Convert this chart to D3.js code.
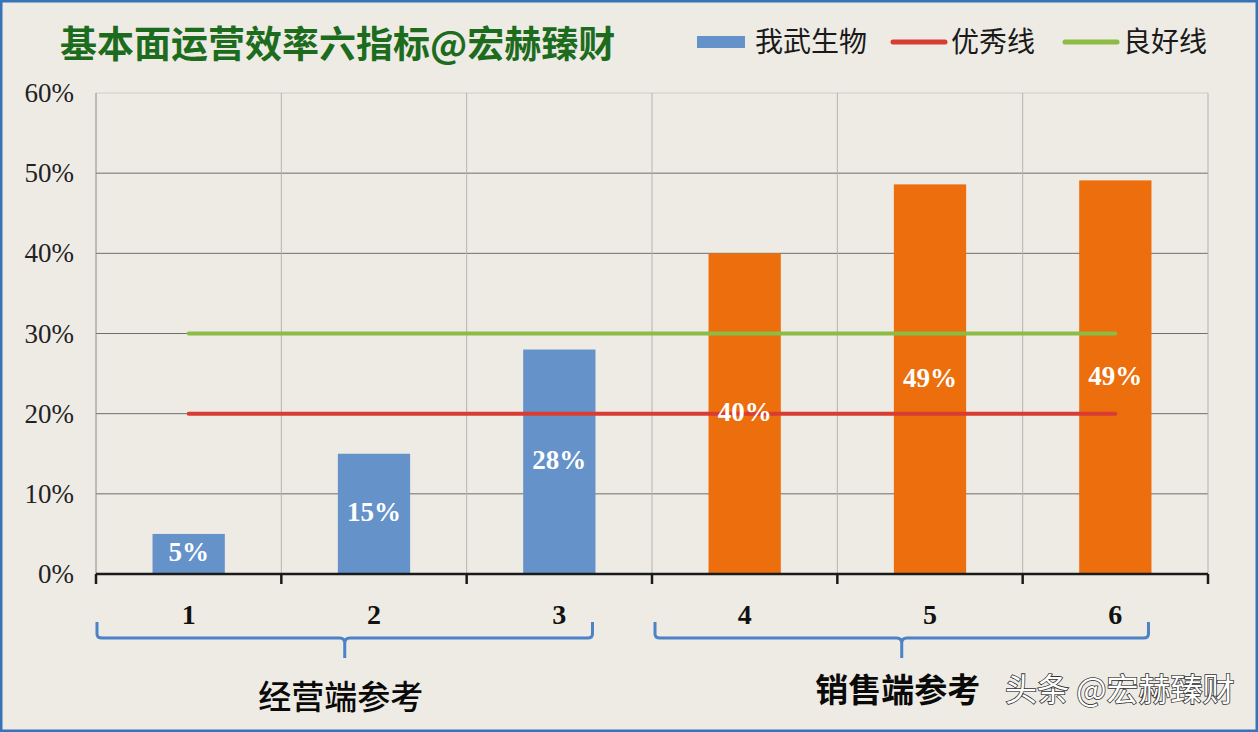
<!DOCTYPE html>
<html>
<head>
<meta charset="utf-8">
<script src="https://cdn.jsdelivr.net/npm/d3@7"></script>
<style>
  html, body { margin: 0; padding: 0; background: #eeebe5; }
  svg { display: block; }
</style>
</head>
<body>
<svg id="chart"></svg>
<script>
// chart data
const categories = ["1", "2", "3", "4", "5", "6"];
const values = [5, 15, 28, 40, 48.6, 49.1];
const barLabels = ["5%", "15%", "28%", "40%", "49%", "49%"];
const groupOfBar = ["经营", "经营", "经营", "销售", "销售", "销售"];
const excellentLine = 20;
const goodLine = 30;
const yTicks = [0, 10, 20, 30, 40, 50, 60];
const groups = [
  { name: "经营端参考", from: "1", to: "3" },
  { name: "销售端参考", from: "4", to: "6" },
];
const legendItems = ["我武生物", "优秀线", "良好线"];

const width = 1258;
const height = 732;
const margin = { top: 93, right: 50, bottom: 158, left: 96 };

const colors = {
  blue: "#6592c9",
  orange: "#ec6e0c",
  red: "#d83c33",
  green: "#8cbc44",
  brace: "#4b82c8",
  title: "#1d6b1d",
};

const svg = d3.select("#chart").attr("width", width).attr("height", height);

// background + frame
svg.append("rect")
  .attr("x", 1).attr("y", 1)
  .attr("width", width - 2).attr("height", height - 2)
  .attr("fill", "#eeebe5")
  .attr("stroke", "#3673b8")
  .attr("stroke-width", 3);

const xScale = d3.scaleBand()
  .domain(categories)
  .range([margin.left, width - margin.right])
  .paddingInner(0.61)
  .paddingOuter(0.305);

const yScale = d3.scaleLinear()
  .domain([0, 60])
  .range([height - margin.bottom, margin.top]);

const step = xScale.step();
const bw = xScale.bandwidth();
const boundaries = d3.range(categories.length + 1).map((i) => margin.left + i * step);
const bandStart = (c) => xScale(c) - (step - bw) / 2;

// horizontal grid
svg.append("g")
  .selectAll("line")
  .data(yTicks.slice(1))
  .enter()
  .append("line")
  .attr("x1", margin.left)
  .attr("x2", width - margin.right)
  .attr("y1", (d) => yScale(d))
  .attr("y2", (d) => yScale(d))
  .attr("stroke", (d) => (d === 60 ? "#cfcdc8" : "#6e6e6e"))
  .attr("stroke-width", 1);

// vertical grid
svg.append("g")
  .selectAll("line")
  .data(boundaries)
  .enter()
  .append("line")
  .attr("x1", (d) => d)
  .attr("x2", (d) => d)
  .attr("y1", yScale(60))
  .attr("y2", yScale(0))
  .attr("stroke", (d, i) => (i === 0 ? "#8a8a8a" : "#b5b3ae"))
  .attr("stroke-width", 1);

// y axis labels
const yAxis = d3.axisLeft(yScale)
  .tickValues(yTicks)
  .tickFormat((d) => d + "%")
  .tickSize(0)
  .tickPadding(22);

svg.append("g")
  .attr("transform", "translate(" + margin.left + ",0)")
  .call(yAxis)
  .call((g) => g.select(".domain").remove())
  .selectAll("text")
  .attr("font-family", "'Liberation Serif', serif")
  .attr("font-size", 27)
  .attr("fill", "#222");

// bars
svg.append("g")
  .selectAll("rect")
  .data(values)
  .enter()
  .append("rect")
  .attr("x", (d, i) => xScale(categories[i]))
  .attr("width", bw)
  .attr("y", (d) => yScale(d))
  .attr("height", (d) => yScale(0) - yScale(d))
  .attr("fill", (d, i) => (groupOfBar[i] === "经营" ? colors.blue : colors.orange));

// reference lines
const first = xScale(categories[0]) + bw / 2;
const last = xScale(categories[categories.length - 1]) + bw / 2;
[[goodLine, colors.green], [excellentLine, colors.red]].forEach(([v, c]) => {
  svg.append("line")
    .attr("x1", first).attr("x2", last)
    .attr("y1", yScale(v)).attr("y2", yScale(v))
    .attr("stroke", c)
    .attr("stroke-width", 4)
    .attr("stroke-linecap", "round");
});

// bar value labels, centred in each bar
svg.append("g")
  .selectAll("text")
  .data(values)
  .enter()
  .append("text")
  .attr("x", (d, i) => xScale(categories[i]) + bw / 2)
  .attr("y", (d) => (yScale(d) + yScale(0)) / 2 - 2)
  .attr("dy", "0.35em")
  .attr("text-anchor", "middle")
  .attr("font-family", "'Liberation Serif', serif")
  .attr("font-weight", "bold")
  .attr("font-size", 27)
  .attr("fill", "#ffffff")
  .text((d, i) => barLabels[i]);

// x axis
const xAxisG = svg.append("g")
  .attr("transform", "translate(0," + yScale(0) + ")");

xAxisG.append("line")
  .attr("x1", margin.left).attr("x2", width - margin.right)
  .attr("stroke", "#1a1a1a")
  .attr("stroke-width", 2.5);

xAxisG.selectAll(".tick-mark")
  .data(boundaries)
  .enter()
  .append("line")
  .attr("x1", (d) => d).attr("x2", (d) => d)
  .attr("y1", 0).attr("y2", 10)
  .attr("stroke", "#1a1a1a")
  .attr("stroke-width", 2.5);

xAxisG.selectAll(".cat")
  .data(categories)
  .enter()
  .append("text")
  .attr("x", (d) => xScale(d) + bw / 2)
  .attr("y", 40)
  .attr("dy", "0.35em")
  .attr("text-anchor", "middle")
  .attr("font-family", "'Liberation Serif', serif")
  .attr("font-weight", "bold")
  .attr("font-size", 28)
  .attr("fill", "#111")
  .text((d) => d);

// group braces
const braceTop = 622;
const braceY = 638;
const braceTip = 658;
groups.forEach((g, gi) => {
  const x0 = bandStart(g.from) + (gi === 0 ? 1 : 3);
  const x1 = xScale(g.to) + bw - 3;
  const mid = (x0 + x1) / 2;
  const path = d3.path();
  path.moveTo(x0, braceTop);
  path.lineTo(x0, braceY - 4);
  path.quadraticCurveTo(x0, braceY, x0 + 5, braceY);
  path.lineTo(mid - 5, braceY);
  path.quadraticCurveTo(mid, braceY, mid, braceY + 5);
  path.lineTo(mid, braceTip);
  path.moveTo(mid, braceY + 5);
  path.quadraticCurveTo(mid, braceY, mid + 5, braceY);
  path.lineTo(x1 - 5, braceY);
  path.quadraticCurveTo(x1, braceY, x1, braceY - 4);
  path.lineTo(x1, braceTop);
  svg.append("path")
    .attr("d", path.toString())
    .attr("fill", "none")
    .attr("stroke", colors.brace)
    .attr("stroke-width", 3);

  svg.append("text")
    .attr("x", mid - 4)
    .attr("y", gi === 0 ? 697 : 690)
    .attr("dy", "0.35em")
    .attr("text-anchor", "middle")
    .attr("font-family", "'Noto Sans CJK SC', sans-serif")
    .attr("font-weight", gi === 0 ? 500 : "bold")
    .attr("font-size", 33)
    .attr("fill", "#0a0a0a")
    .text(g.name);
});

// watermark
svg.append("text")
  .attr("x", 1005)
  .attr("y", 690)
  .attr("dy", "0.35em")
  .attr("font-family", "'Noto Sans CJK SC', sans-serif")
  .attr("font-size", 32)
  .attr("fill", "#ffffff")
  .attr("stroke", "#333")
  .attr("stroke-width", 1.6)
  .attr("paint-order", "stroke")
  .text("头条 @宏赫臻财");

// title
svg.append("text")
  .attr("x", 60)
  .attr("y", 45)
  .attr("dy", "0.35em")
  .attr("font-family", "'Noto Sans CJK SC', sans-serif")
  .attr("font-weight", "bold")
  .attr("font-size", 37)
  .attr("fill", colors.title)
  .text("基本面运营效率六指标@宏赫臻财");

// legend
const legend = svg.append("g").attr("transform", "translate(697,42)");
const legendX = [0, 196, 368];
legendItems.forEach((name, i) => {
  const g = legend.append("g").attr("transform", "translate(" + legendX[i] + ",0)");
  if (i === 0) {
    g.append("rect")
      .attr("x", 0).attr("y", -6)
      .attr("width", 48).attr("height", 12)
      .attr("fill", colors.blue);
  } else {
    g.append("line")
      .attr("x1", 0).attr("x2", 52)
      .attr("stroke", i === 1 ? colors.red : colors.green)
      .attr("stroke-width", 5)
      .attr("stroke-linecap", "round");
  }
  g.append("text")
    .attr("x", 58)
    .attr("y", 0)
    .attr("dy", "0.35em")
    .attr("font-family", "'Noto Sans CJK SC', sans-serif")
    .attr("font-size", 28)
    .attr("fill", "#1a1a1a")
    .text(name);
});
</script>
</body>
</html>
